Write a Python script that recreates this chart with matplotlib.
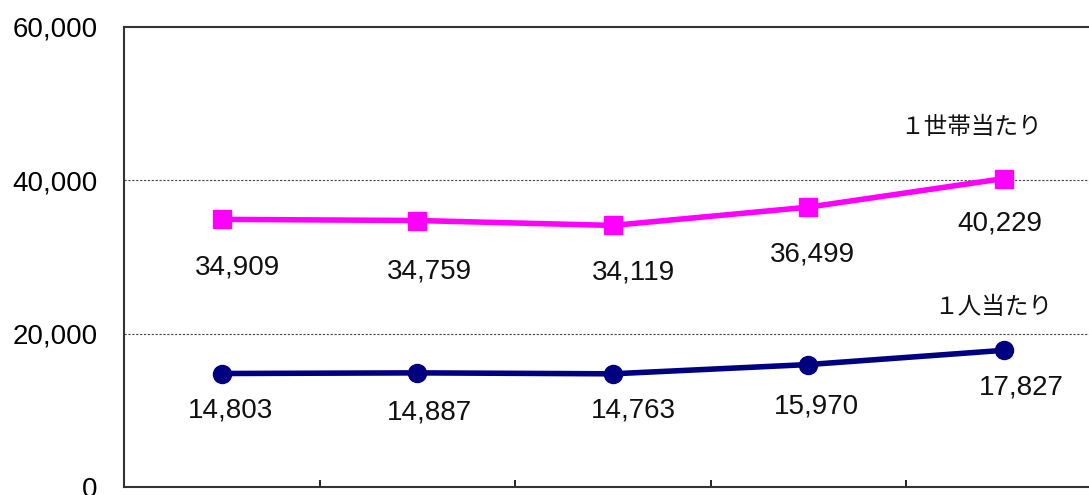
import numpy as np
import matplotlib.pyplot as plt

plt.rcParams['font.family'] = ['Liberation Sans', 'Noto Sans CJK JP']

# data
categories = ['1', '2', '3', '4', '5']
per_household = [34909, 34759, 34119, 36499, 40229]
per_person = [14803, 14887, 14763, 15970, 17827]
y_ticks = [0, 20000, 40000, 60000]
household_label = '１世帯当たり'
person_label = '１人当たり'

# label nudges in pixels (dx, dy)
household_dx = [16, 12, 21, 4, -4]
household_dy = [-48, -51, -47, -47, -45]
person_dx = [9, 12, 21, 8, 18]
person_dy = [-37, -40, -37, -42, -37]


def fmt(v):
    return f'{v:,}'


fig = plt.figure(figsize=(10.89, 4.95), dpi=100)
# axes right edge runs past the figure, like the cropped original
ax = fig.add_axes([124 / 1089, 8 / 495, 977.5 / 1089, 460 / 495])

x = np.arange(len(categories))
ax.plot(x, per_household, color='#FF00FF', lw=4, marker='s', ms=13,
        zorder=3)
ax.plot(x, per_person, color='#000080', lw=4, marker='o', ms=13,
        zorder=3)

for xi, v, dx, dy in zip(x, per_household, household_dx, household_dy):
    ax.annotate(fmt(v), (xi, v), xytext=(dx * 0.72, dy * 0.72),
                textcoords='offset points', ha='center', va='center',
                fontsize=20, color='#111111')
for xi, v, dx, dy in zip(x, per_person, person_dx, person_dy):
    ax.annotate(fmt(v), (xi, v), xytext=(dx * 0.72, dy * 0.72),
                textcoords='offset points', ha='center', va='center',
                fontsize=20, color='#111111')

# series names, placed in figure pixels
fig.text(971.5 / 1089, 1 - 127 / 495, household_label,
         family=['Noto Sans CJK JP'], fontsize=17, ha='center',
         va='center', color='#111111')
fig.text(993.5 / 1089, 1 - 308 / 495, person_label,
         family=['Noto Sans CJK JP'], fontsize=17, ha='center',
         va='center', color='#111111')

ax.set_xlim(-0.5, len(categories) - 0.5)
ax.set_ylim(0, 60000)
ax.set_yticks(y_ticks)
ax.set_yticklabels([fmt(t) for t in y_ticks], fontsize=20)
ax.set_xticks(np.arange(0.5, len(categories) - 0.5))
ax.set_xticklabels([])
ax.tick_params(axis='x', direction='in', length=5, width=1.2)
ax.tick_params(axis='y', length=0, pad=19)

for t in y_ticks[1:3]:
    ax.axhline(t, color='#444444', lw=0.8, ls=(0, (2, 1.5)), zorder=1)

for side in ['left', 'top', 'bottom']:
    ax.spines[side].set_color('#333333')
    ax.spines[side].set_linewidth(1.5)
ax.spines['right'].set_visible(False)

fig.savefig('out.png', dpi=100)
